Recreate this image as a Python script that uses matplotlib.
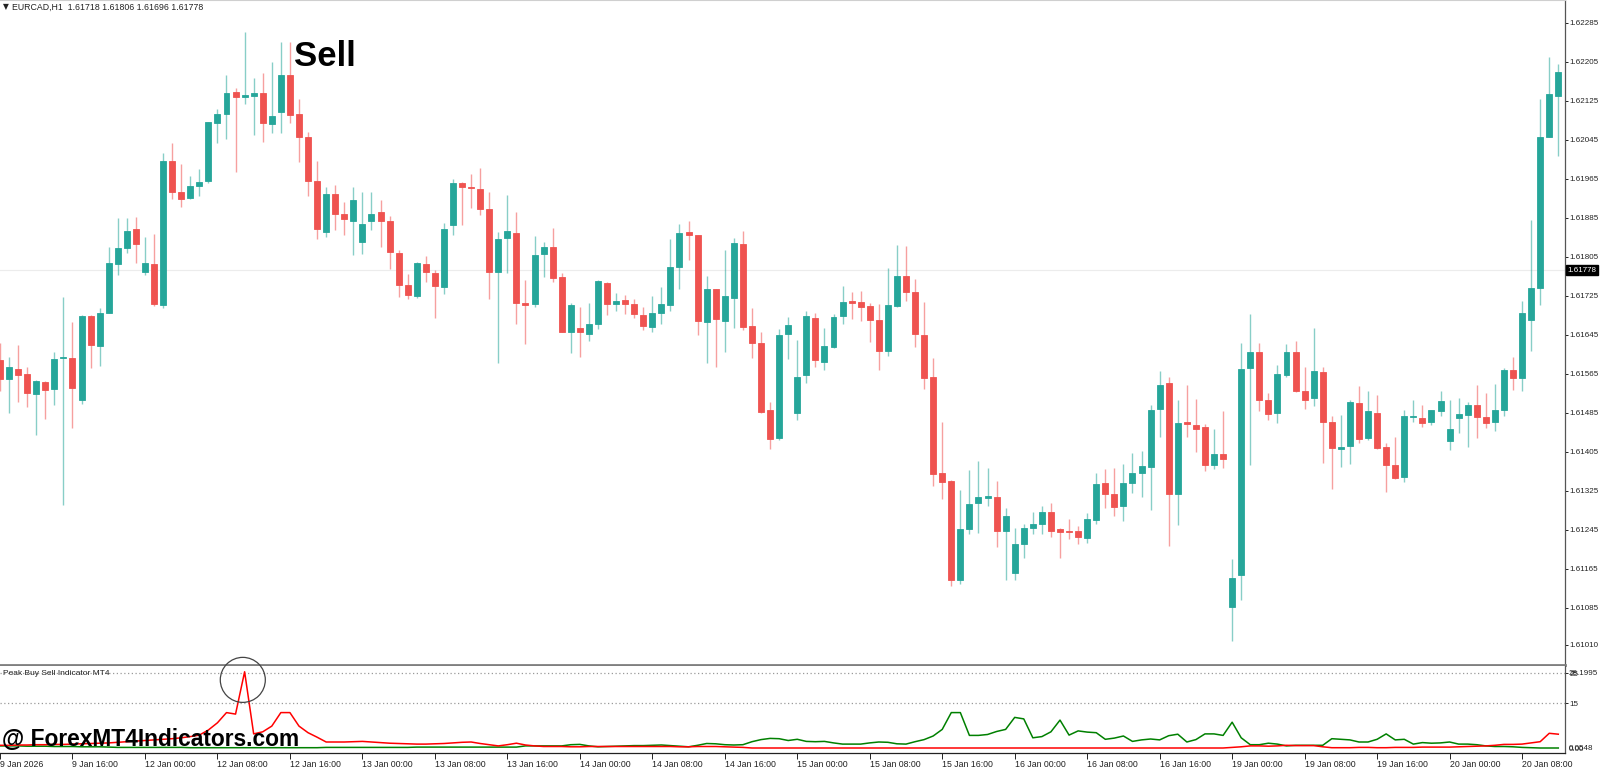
import numpy as np
import matplotlib
matplotlib.use('Agg')
from matplotlib import pyplot as plt
from matplotlib import transforms
from matplotlib.patches import Ellipse

plt.rcParams['font.family'] = ['Liberation Sans', 'DejaVu Sans']

# EURCAD H1, 9 Jan 08:00 .. 20 Jan 12:00
opens = [1.61594, 1.61555, 1.61575, 1.61565, 1.61524, 1.61549, 1.61534, 1.61598, 1.61597, 1.61511,
         1.61684, 1.61623, 1.61690, 1.61790, 1.61824, 1.61862, 1.61775, 1.61790, 1.61706, 1.62002,
         1.61938, 1.61925, 1.61951, 1.61961, 1.62080, 1.62098, 1.62143, 1.62134, 1.62136, 1.62141,
         1.62078, 1.62102, 1.62178, 1.62098, 1.62050, 1.61961, 1.61857, 1.61935, 1.61893, 1.61879,
         1.61836, 1.61879, 1.61897, 1.61879, 1.61814, 1.61747, 1.61725, 1.61790, 1.61773, 1.61744,
         1.61870, 1.61957, 1.61948, 1.61944, 1.61903, 1.61774, 1.61844, 1.61855, 1.61710, 1.61709,
         1.61812, 1.61825, 1.61763, 1.61652, 1.61660, 1.61646, 1.61668, 1.61752, 1.61708, 1.61717,
         1.61708, 1.61686, 1.61661, 1.61689, 1.61707, 1.61784, 1.61856, 1.61850, 1.61672, 1.61739,
         1.61674, 1.61720, 1.61832, 1.61663, 1.61628, 1.61491, 1.61433, 1.61646, 1.61484, 1.61563,
         1.61680, 1.61589, 1.61621, 1.61684, 1.61715, 1.61713, 1.61704, 1.61676, 1.61613, 1.61704,
         1.61766, 1.61733, 1.61644, 1.61559, 1.61361, 1.61345, 1.61142, 1.61247, 1.61300, 1.61311,
         1.61312, 1.61243, 1.61157, 1.61216, 1.61250, 1.61257, 1.61281, 1.61247, 1.61243, 1.61243,
         1.61229, 1.61265, 1.61341, 1.61318, 1.61295, 1.61341, 1.61361, 1.61375, 1.61494, 1.61546,
         1.61319, 1.61466, 1.61461, 1.61457, 1.61378, 1.61401, 1.61087, 1.61153, 1.61578, 1.61609,
         1.61511, 1.61484, 1.61562, 1.61611, 1.61529, 1.61516, 1.61569, 1.61466, 1.61412, 1.61417,
         1.61506, 1.61433, 1.61484, 1.61416, 1.61378, 1.61354, 1.61476, 1.61474, 1.61466, 1.61489,
         1.61427, 1.61475, 1.61480, 1.61502, 1.61476, 1.61466, 1.61490, 1.61574, 1.61557, 1.61676,
         1.61741, 1.62051, 1.62136]
highs = [1.61629, 1.61599, 1.61624, 1.61579, 1.61553, 1.61551, 1.61610, 1.61722, 1.61672, 1.61686,
         1.61686, 1.61700, 1.61825, 1.61884, 1.61884, 1.61887, 1.61845, 1.61853, 1.62018, 1.62039,
         1.61995, 1.61971, 1.61986, 1.62082, 1.62108, 1.62178, 1.62151, 1.62266, 1.62173, 1.62182,
         1.62205, 1.62246, 1.62246, 1.62128, 1.62062, 1.62002, 1.61949, 1.61953, 1.61918, 1.61949,
         1.61938, 1.61938, 1.61922, 1.61889, 1.61819, 1.61770, 1.61795, 1.61807, 1.61778, 1.61874,
         1.61964, 1.61959, 1.61975, 1.61987, 1.61938, 1.61857, 1.61932, 1.61898, 1.61758, 1.61848,
         1.61836, 1.61864, 1.61773, 1.61710, 1.61702, 1.61710, 1.61758, 1.61754, 1.61732, 1.61727,
         1.61719, 1.61703, 1.61725, 1.61743, 1.61842, 1.61873, 1.61879, 1.61850, 1.61766, 1.61739,
         1.61820, 1.61844, 1.61858, 1.61700, 1.61652, 1.61508, 1.61657, 1.61681, 1.61635, 1.61694,
         1.61689, 1.61660, 1.61687, 1.61745, 1.61734, 1.61735, 1.61710, 1.61708, 1.61782, 1.61829,
         1.61827, 1.61759, 1.61713, 1.61597, 1.61467, 1.61347, 1.61326, 1.61368, 1.61386, 1.61373,
         1.61346, 1.61289, 1.61248, 1.61257, 1.61282, 1.61294, 1.61301, 1.61248, 1.61267, 1.61253,
         1.61279, 1.61361, 1.61371, 1.61372, 1.61380, 1.61402, 1.61406, 1.61501, 1.61572, 1.61559,
         1.61512, 1.61542, 1.61513, 1.61462, 1.61452, 1.61488, 1.61186, 1.61628, 1.61687, 1.61629,
         1.61525, 1.61583, 1.61627, 1.61633, 1.61579, 1.61660, 1.61579, 1.61478, 1.61480, 1.61511,
         1.61541, 1.61531, 1.61521, 1.61423, 1.61435, 1.61492, 1.61512, 1.61502, 1.61491, 1.61531,
         1.61512, 1.61516, 1.61507, 1.61542, 1.61525, 1.61545, 1.61578, 1.61600, 1.61715, 1.61881,
         1.62128, 1.62215, 1.62200]
lows = [1.61529, 1.61484, 1.61507, 1.61498, 1.61440, 1.61473, 1.61501, 1.61296, 1.61454, 1.61504,
        1.61578, 1.61582, 1.61689, 1.61768, 1.61814, 1.61793, 1.61768, 1.61704, 1.61700, 1.61923,
        1.61908, 1.61923, 1.61930, 1.61957, 1.62039, 1.62046, 1.61980, 1.62118, 1.62056, 1.62041,
        1.62060, 1.62060, 1.62080, 1.62000, 1.61930, 1.61842, 1.61846, 1.61860, 1.61849, 1.61809,
        1.61812, 1.61860, 1.61826, 1.61780, 1.61723, 1.61718, 1.61721, 1.61753, 1.61679, 1.61728,
        1.61850, 1.61870, 1.61906, 1.61891, 1.61718, 1.61587, 1.61773, 1.61667, 1.61626, 1.61703,
        1.61764, 1.61753, 1.61652, 1.61607, 1.61599, 1.61633, 1.61657, 1.61686, 1.61694, 1.61687,
        1.61680, 1.61655, 1.61652, 1.61667, 1.61695, 1.61739, 1.61799, 1.61645, 1.61587, 1.61580,
        1.61609, 1.61660, 1.61655, 1.61598, 1.61484, 1.61412, 1.61429, 1.61596, 1.61470, 1.61547,
        1.61579, 1.61573, 1.61618, 1.61667, 1.61677, 1.61674, 1.61630, 1.61573, 1.61602, 1.61702,
        1.61715, 1.61621, 1.61534, 1.61335, 1.61308, 1.61130, 1.61135, 1.61237, 1.61239, 1.61294,
        1.61211, 1.61142, 1.61142, 1.61187, 1.61237, 1.61237, 1.61231, 1.61187, 1.61226, 1.61217,
        1.61219, 1.61258, 1.61289, 1.61274, 1.61264, 1.61320, 1.61312, 1.61286, 1.61435, 1.61212,
        1.61256, 1.61435, 1.61404, 1.61365, 1.61369, 1.61372, 1.61017, 1.61102, 1.61379, 1.61488,
        1.61470, 1.61464, 1.61559, 1.61527, 1.61494, 1.61500, 1.61382, 1.61328, 1.61374, 1.61380,
        1.61423, 1.61429, 1.61411, 1.61323, 1.61349, 1.61343, 1.61466, 1.61456, 1.61461, 1.61478,
        1.61409, 1.61443, 1.61416, 1.61433, 1.61455, 1.61448, 1.61478, 1.61533, 1.61531, 1.61613,
        1.61707, 1.62051, 1.62011]
closes = [1.61554, 1.61579, 1.61563, 1.61525, 1.61550, 1.61533, 1.61596, 1.61600, 1.61536, 1.61683,
          1.61625, 1.61690, 1.61792, 1.61824, 1.61858, 1.61831, 1.61793, 1.61708, 1.62002, 1.61938,
          1.61923, 1.61951, 1.61959, 1.62081, 1.62098, 1.62142, 1.62134, 1.62138, 1.62142, 1.62080,
          1.62095, 1.62178, 1.62096, 1.62050, 1.61961, 1.61862, 1.61935, 1.61893, 1.61883, 1.61922,
          1.61872, 1.61894, 1.61879, 1.61816, 1.61747, 1.61727, 1.61792, 1.61774, 1.61745, 1.61862,
          1.61956, 1.61949, 1.61946, 1.61903, 1.61775, 1.61842, 1.61858, 1.61710, 1.61707, 1.61808,
          1.61826, 1.61762, 1.61652, 1.61706, 1.61652, 1.61667, 1.61756, 1.61708, 1.61715, 1.61709,
          1.61687, 1.61664, 1.61690, 1.61708, 1.61785, 1.61855, 1.61850, 1.61673, 1.61739, 1.61677,
          1.61725, 1.61833, 1.61662, 1.61629, 1.61486, 1.61431, 1.61645, 1.61665, 1.61559, 1.61684,
          1.61593, 1.61622, 1.61682, 1.61713, 1.61711, 1.61702, 1.61675, 1.61612, 1.61706, 1.61766,
          1.61733, 1.61646, 1.61556, 1.61360, 1.61344, 1.61142, 1.61246, 1.61299, 1.61312, 1.61314,
          1.61243, 1.61274, 1.61216, 1.61249, 1.61257, 1.61281, 1.61243, 1.61241, 1.61241, 1.61230,
          1.61267, 1.61339, 1.61319, 1.61293, 1.61341, 1.61361, 1.61376, 1.61492, 1.61543, 1.61318,
          1.61464, 1.61462, 1.61453, 1.61378, 1.61401, 1.61390, 1.61147, 1.61576, 1.61610, 1.61512,
          1.61482, 1.61564, 1.61610, 1.61529, 1.61512, 1.61572, 1.61466, 1.61413, 1.61416, 1.61508,
          1.61431, 1.61488, 1.61413, 1.61379, 1.61352, 1.61478, 1.61478, 1.61464, 1.61490, 1.61509,
          1.61452, 1.61482, 1.61502, 1.61476, 1.61464, 1.61490, 1.61574, 1.61556, 1.61691, 1.61741,
          1.62052, 1.62140, 1.62184]

# Peak Buy Sell Indicator buffers
sell_line = [1.0, 1.0, 1.1, 1.1, 1.2, 1.2, 1.3, 1.3, 1.4, 1.5,
             1.6, 1.7, 1.8, 2.0, 2.2, 2.4, 2.6, 2.8, 3.0, 3.2,
             3.5, 3.9, 4.4, 6.1, 8.5, 11.9, 11.4, 25.5, 4.8, 5.5,
             7.4, 11.9, 11.9, 7.4, 5.2, 3.7, 2.1, 2.1, 2.1, 2.2,
             2.3, 2.1, 1.9, 1.7, 1.6, 1.5, 1.4, 1.4, 1.5, 1.6,
             1.8, 2.0, 2.1, 1.6, 1.2, 0.8, 1.2, 1.7, 1.1, 0.8,
             0.6, 0.6, 0.6, 0.5, 0.5, 0.6, 0.6, 0.6, 0.6, 0.6,
             0.6, 0.6, 0.6, 0.6, 0.6, 0.5, 0.5, 0.6, 0.6, 0.6,
             0.5, 0.4, 0.3, 0.1, 0.1, 0.1, 0.1, 0.1, 0.1, 0.1,
             0.1, 0.1, 0.1, 0.1, 0.1, 0.1, 0.1, 0.1, 0.1, 0.1,
             0.1, 0.1, 0.1, 0.1, 0.1, 0.1, 0.1, 0.1, 0.1, 0.1,
             0.1, 0.1, 0.1, 0.1, 0.1, 0.1, 0.1, 0.1, 0.1, 0.1,
             0.1, 0.1, 0.1, 0.1, 0.1, 0.1, 0.1, 0.1, 0.1, 0.1,
             0.1, 0.1, 0.1, 0.1, 0.1, 0.1, 0.3, 0.5, 0.8, 0.8,
             0.7, 0.8, 1.0, 0.9, 0.9, 0.9, 0.5, 0.2, 0.2, 0.2,
             0.3, 0.3, 0.2, 0.2, 0.3, 0.3, 0.3, 0.4, 0.4, 0.4,
             0.4, 0.5, 0.6, 0.7, 0.8, 1.0, 1.3, 1.3, 1.4, 1.8,
             2.2, 5.0, 4.7]
buy_line = [0.8, 0.8, 0.8, 0.7, 0.7, 0.7, 0.6, 0.6, 0.6, 0.5,
            0.5, 0.5, 0.4, 0.3, 0.3, 0.3, 0.3, 0.3, 0.3, 0.3,
            0.3, 0.2, 0.2, 0.2, 0.2, 0.2, 0.2, 0.2, 0.2, 0.2,
            0.2, 0.2, 0.2, 0.2, 0.2, 0.2, 0.3, 0.3, 0.3, 0.3,
            0.3, 0.3, 0.3, 0.3, 0.3, 0.3, 0.4, 0.4, 0.4, 0.4,
            0.4, 0.4, 0.4, 0.4, 0.4, 0.4, 0.4, 0.4, 0.8, 0.8,
            0.8, 0.8, 0.8, 1.2, 1.3, 0.8, 0.5, 0.6, 0.7, 0.8,
            0.9, 0.9, 1.0, 1.1, 0.9, 0.7, 0.5, 1.0, 1.6, 1.5,
            1.2, 1.1, 1.2, 2.2, 2.9, 3.3, 3.2, 2.6, 3.0, 2.3,
            2.2, 2.3, 1.8, 1.4, 1.4, 1.4, 1.8, 2.1, 2.0, 1.5,
            1.4, 2.2, 2.9, 4.1, 6.3, 11.9, 11.9, 4.3, 4.3, 4.6,
            5.6, 6.3, 10.3, 9.8, 3.5, 3.9, 5.5, 9.4, 4.4, 5.8,
            5.4, 5.2, 3.0, 3.4, 4.1, 2.3, 2.8, 3.1, 2.8, 4.2,
            4.7, 2.1, 2.9, 4.8, 4.8, 4.3, 8.7, 3.5, 1.2, 1.2,
            1.7, 1.4, 0.8, 1.0, 1.0, 1.0, 1.0, 3.2, 3.0, 2.8,
            2.1, 2.1, 3.0, 4.8, 2.8, 3.0, 1.4, 1.9, 1.7, 1.8,
            2.1, 1.4, 1.4, 1.2, 0.8, 0.6, 0.6, 0.5, 0.3, 0.2,
            0.1, 0.1, 0.1]

time_labels = ['9 Jan 2026', '9 Jan 16:00',
               '12 Jan 00:00', '12 Jan 08:00', '12 Jan 16:00',
               '13 Jan 00:00', '13 Jan 08:00', '13 Jan 16:00',
               '14 Jan 00:00', '14 Jan 08:00', '14 Jan 16:00',
               '15 Jan 00:00', '15 Jan 08:00', '15 Jan 16:00',
               '16 Jan 00:00', '16 Jan 08:00', '16 Jan 16:00',
               '19 Jan 00:00', '19 Jan 08:00', '19 Jan 16:00',
               '20 Jan 00:00', '20 Jan 08:00']
price_labels = ['1.62285', '1.62205', '1.62125', '1.62045', '1.61965', '1.61885',
                '1.61805', '1.61725', '1.61645', '1.61565', '1.61485', '1.61405',
                '1.61325', '1.61245', '1.61165', '1.61085', '1.61010']
last_price = 1.61778
header = 'EURCAD,H1  1.61718 1.61806 1.61696 1.61778'

UP = '#26a69a'
DOWN = '#ef5350'
txt = '#222222'
fs = 6.3
fs_axis = 5.8

opens = np.array(opens)
closes = np.array(closes)
highs = np.array(highs)
lows = np.array(lows)
x = np.arange(len(opens))
up = closes >= opens
cols = np.where(up, UP, DOWN)

fig = plt.figure(figsize=(16, 7.67), dpi=100)
ax = fig.add_axes([0.0, 0.1330, 0.978125, 0.8670])
ax2 = fig.add_axes([0.0, 0.0189, 0.978125, 0.1128])

# ---- main price panel
ax.axhline(last_price, color='#ececec', lw=0.8, zorder=0)
ax.vlines(x, lows, highs, colors=cols, lw=1.0, alpha=0.55, zorder=1)
body_h = np.maximum(np.abs(closes - opens), 0.00001)
ax.bar(x, body_h, bottom=np.minimum(opens, closes), width=0.66,
       color=cols, edgecolor=cols, linewidth=0.6, zorder=2)

ax.set_xlim(0, 172.74)
ax.set_ylim(1.60968, 1.62332)
ax.yaxis.tick_right()
ax.set_yticks([float(p) for p in price_labels])
ax.set_yticklabels(price_labels)
ax.tick_params(axis='y', direction='out', length=2, width=0.7, pad=1,
               labelsize=fs_axis, colors=txt)
ax.set_xticks([])
ax.spines['left'].set_visible(False)
ax.spines['top'].set_color('#cfcfcf')
ax.spines['top'].set_linewidth(0.8)
ax.spines['right'].set_color('#555555')
ax.spines['right'].set_linewidth(0.9)
ax.spines['bottom'].set_color('#7f7f7f')
ax.spines['bottom'].set_linewidth(2.0)

blend = transforms.blended_transform_factory(ax.transAxes, ax.transData)
ax.text(1.0016, last_price, '1.61778', transform=blend, ha='left', va='center',
        fontsize=fs_axis, color='white',
        bbox=dict(facecolor='black', edgecolor='black', pad=0.9))

ax.text(32.4, 1.62217, 'Sell', ha='left', va='center', fontsize=25,
        fontweight='bold', color='black', zorder=5)

fig.text(0.0019, 1 - 7 / 767, '\u25bc', fontsize=5.5, va='center', ha='left',
         color=txt, family=['DejaVu Sans'])
fig.text(0.0075, 1 - 7 / 767, header, fontsize=fs, va='center', ha='left', color=txt)

# ---- indicator panel
ax2.axhline(25, color='#9a9a9a', lw=0.9, ls=(0, (1, 2)))
ax2.axhline(15, color='#9a9a9a', lw=0.9, ls=(0, (1, 2)))
ax2.plot(x, buy_line, color='#008000', lw=1.1, zorder=3)
ax2.plot(x, sell_line, color='#ff0000', lw=1.1, zorder=4)

peak = int(np.argmax(sell_line))
ax2.add_patch(Ellipse((peak - 0.2, 22.8), 4.97, 15.0, fill=False,
                      edgecolor='#444444', lw=0.9, clip_on=False, zorder=6))

ax2.set_xlim(0, 172.74)
ax2.set_ylim(-1.4, 27.43)
ax2.yaxis.tick_right()
ax2.set_yticks([25, 15])
ax2.set_yticklabels(['25', '15'])
ax2.tick_params(axis='y', direction='out', length=2, width=0.7, pad=1,
                labelsize=fs_axis, colors=txt)
blend2 = transforms.blended_transform_factory(ax2.transAxes, ax2.transData)
ax2.text(1.0025, 25, '28.1995', transform=blend2, ha='left', va='center',
         fontsize=fs_axis, color=txt)
ax2.text(1.0025, 0.0, '0.0548', transform=blend2, ha='left', va='center',
         fontsize=fs_axis, color=txt)
ax2.text(1.0025, -0.3, '0.00', transform=blend2, ha='left', va='center',
         fontsize=fs_axis, color=txt)
ax2.text(0.002, 25, 'Peak Buy Sell Indicator MT4', transform=blend2, ha='left',
         va='center', fontsize=6.0, color=txt)

ax2.set_xticks(np.arange(len(time_labels)) * 8)
ax2.set_xticklabels(time_labels)
ax2.tick_params(axis='x', direction='out', length=4, width=0.7, pad=1.5,
                labelsize=fs, colors=txt)
for lbl in ax2.get_xticklabels():
    lbl.set_ha('left')
ax2.spines['left'].set_visible(False)
ax2.spines['top'].set_visible(False)
ax2.spines['right'].set_color('#555555')
ax2.spines['right'].set_linewidth(0.9)
ax2.spines['bottom'].set_color('#222222')
ax2.spines['bottom'].set_linewidth(0.9)

fig.text(2 / 1600, 1 - 740 / 767, '@ ForexMT4Indicators.com', fontsize=16.4,
         fontweight='bold', color='black', va='center', ha='left')

fig.savefig('out.png', dpi=100)
